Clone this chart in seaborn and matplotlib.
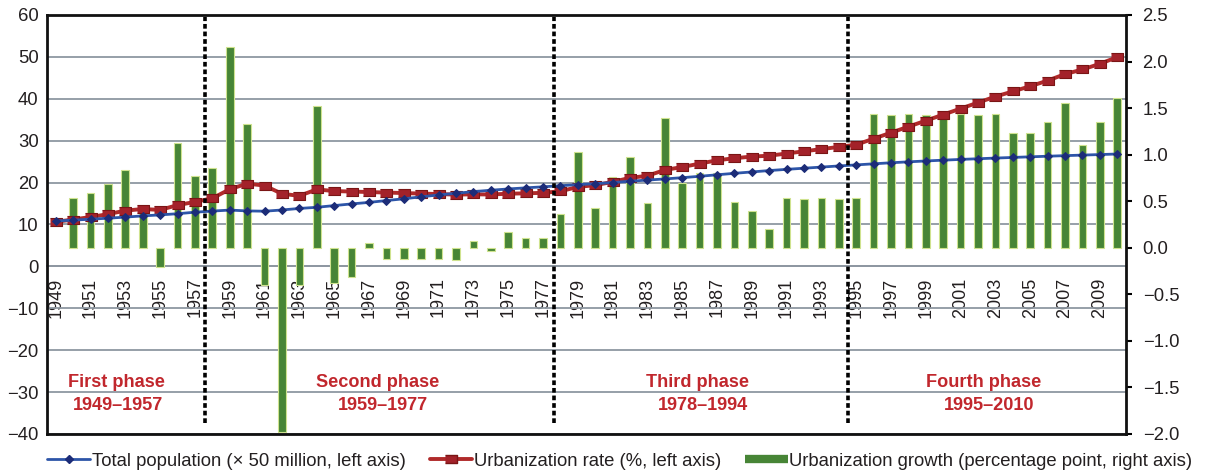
import numpy as np
import pandas as pd
import matplotlib
matplotlib.use('Agg')
import matplotlib.pyplot as plt
import seaborn as sns
from matplotlib.lines import Line2D
from matplotlib.ticker import FuncFormatter

sns.set_style("white")
plt.rcParams['font.family'] = ['Liberation Sans', 'DejaVu Sans']

years = list(range(1949, 2011))

# total population (x 50 million)
population = [10.83, 11.04, 11.26, 11.50, 11.76, 12.05, 12.29, 12.57, 12.93, 13.20,
              13.44, 13.24, 13.17, 13.46, 13.83, 14.10, 14.51, 14.91, 15.27, 15.71,
              16.13, 16.60, 17.05, 17.44, 17.84, 18.17, 18.48, 18.74, 18.99, 19.25,
              19.51, 19.74, 20.01, 20.33, 20.60, 20.87, 21.17, 21.50, 21.86, 22.21,
              22.54, 22.87, 23.16, 23.43, 23.70, 23.97, 24.22, 24.48, 24.73, 24.95,
              25.16, 25.35, 25.53, 25.69, 25.85, 26.00, 26.15, 26.29, 26.43, 26.56,
              26.69, 26.82]

# urbanization rate (%)
urban_rate = [10.64, 11.18, 11.78, 12.46, 13.31, 13.69, 13.48, 14.62, 15.39, 16.25,
              18.41, 19.75, 19.29, 17.33, 16.84, 18.37, 17.98, 17.86, 17.74, 17.62,
              17.50, 17.38, 17.26, 17.13, 17.20, 17.16, 17.34, 17.44, 17.55, 17.92,
              18.96, 19.39, 20.16, 21.13, 21.62, 23.01, 23.71, 24.52, 25.32, 25.81,
              26.21, 26.41, 26.94, 27.46, 27.99, 28.51, 29.04, 30.48, 31.91, 33.35,
              34.78, 36.22, 37.66, 39.09, 40.53, 41.76, 42.99, 44.34, 45.89, 46.99,
              48.34, 49.95]

# urbanization growth (percentage point)
growth = [np.nan, 0.53, 0.59, 0.68, 0.84, 0.38, -0.21, 1.13, 0.77, 0.86,
          2.16, 1.33, -0.40, -1.98, -0.40, 1.52, -0.38, -0.31, 0.05, -0.12,
          -0.12, -0.12, -0.12, -0.13, 0.07, -0.04, 0.17, 0.10, 0.11, 0.36,
          1.03, 0.43, 0.76, 0.97, 0.48, 1.39, 0.70, 0.80, 0.80, 0.49,
          0.40, 0.20, 0.53, 0.52, 0.53, 0.52, 0.53, 1.44, 1.43, 1.44,
          1.43, 1.44, 1.44, 1.43, 1.44, 1.23, 1.23, 1.35, 1.55, 1.10,
          1.35, 1.61]

phase_names = ["First phase", "Second phase", "Third phase", "Fourth phase"]
phase_spans = ["1949\u20131957", "1959\u20131977", "1978\u20131994", "1995\u20132010"]

df = pd.DataFrame({"year": [str(y) for y in years], "idx": np.arange(len(years)),
                   "pop": population, "rate": urban_rate, "growth": growth})

GREEN = "#478536"
RED = "#a3222a"
BLUE = "#2d55a8"
NAVY = "#1c2c78"
GRID = "#8d97a1"
TXT = "#231f20"
PHASE = "#c1272d"

fig = plt.figure(figsize=(12.05, 4.74), dpi=100)
ax = fig.add_axes([0.039, 0.0844, 0.8954, 0.884])
ax2 = ax.twinx()
ax3 = ax.twinx()
ax.set_zorder(0)
ax2.set_zorder(1)
ax3.set_zorder(2)
ax2.patch.set_visible(False)
ax3.patch.set_visible(False)

# bars (right axis)
sns.barplot(data=df, x="year", y="growth", ax=ax2, color=GREEN, saturation=1,
            width=0.44, edgecolor="#cfe38f", linewidth=0.8)

# lines (left axis)
sq = [(-1.35, -1), (1.35, -1), (1.35, 1), (-1.35, 1)]
sns.lineplot(data=df, x="idx", y="rate", ax=ax3, color="#b02a2a", lw=2.8,
             marker=sq, markersize=8.5, markerfacecolor=RED, markeredgecolor="#7a1515",
             markeredgewidth=0.8)
sns.lineplot(data=df, x="idx", y="pop", ax=ax3, color=BLUE, lw=2,
             marker="D", markersize=4.5, markerfacecolor=NAVY, markeredgecolor=NAVY)

n = len(years)
for a in (ax, ax2, ax3):
    a.set_xlim(-0.5, n - 0.5)
    a.set_xlabel("")
    a.set_ylabel("")

ax.set_ylim(-40, 60)
ax3.set_ylim(-40, 60)
ax2.set_ylim(-2.0, 2.5)

# left axis / grid
ax.set_yticks(np.arange(-40, 61, 10))
ax.yaxis.grid(True, color=GRID, lw=1.3)
ax.xaxis.grid(False)
ax.tick_params(axis='y', length=0, pad=6, labelsize=13.3, labelcolor=TXT)
for s in ("left", "top", "right"):
    ax.spines[s].set_visible(False)
ax.spines["bottom"].set_position(("data", 0))
ax.spines["bottom"].set_color(GRID)
ax.spines["bottom"].set_linewidth(1.3)

# x ticks along the zero line
ax.set_xticks(np.arange(0, n, 2))
ax.set_xticklabels(years[::2], rotation=90)
ax.set_xticks(np.arange(-0.5, n, 1), minor=True)
ax.tick_params(axis='x', which='major', length=0, pad=8, labelsize=13, labelcolor=TXT)
ax.tick_params(axis='x', which='minor', length=3, width=1, color=GRID, direction='out')

# right axis
ax2.set_yticks(np.arange(-2.0, 2.51, 0.5))
ax2.yaxis.set_major_formatter(FuncFormatter(lambda v, p: f"{v:.1f}".replace("-", "\u2212")))
ax2.tick_params(axis='y', length=4, width=1.5, color="black", pad=8,
                labelsize=13.3, labelcolor=TXT)
ax2.grid(False)
for s in ax2.spines.values():
    s.set_visible(True)
    s.set_color("#111111")
    s.set_linewidth(2)

ax3.set_yticks([])
ax3.grid(False)
for s in ax3.spines.values():
    s.set_visible(False)

# phase separators and labels
for xpos in [8.58, 28.62, 45.5]:
    ax3.vlines(xpos, -37.4, 59.6, colors="black", linestyles=(0, (1.3, 0.8)), lw=2.6)

name_x = [3.47, 18.49, 36.9, 53.32]
span_x = [3.6, 18.78, 37.2, 53.64]
for nm, sp, xn, xs in zip(phase_names, phase_spans, name_x, span_x):
    ax3.text(xn, -27.8, nm, ha="center", va="center", color=PHASE,
             fontsize=13.1, fontweight="bold")
    ax3.text(xs, -33.3, sp, ha="center", va="center", color=PHASE,
             fontsize=13.1, fontweight="bold")

handles = [
    Line2D([], [], color=BLUE, lw=2, marker="D", markersize=4.5,
           markerfacecolor=NAVY, markeredgecolor=NAVY),
    Line2D([], [], color="#b02a2a", lw=2.8, marker=sq, markersize=8.5,
           markerfacecolor=RED, markeredgecolor="#7a1515"),
    Line2D([], [], color=GREEN, lw=6, solid_capstyle="butt"),
]
labels = ["Total population (\u00d7 50 million, left axis)",
          "Urbanization rate (%, left axis)",
          "Urbanization growth (percentage point, right axis)"]
fig.legend(handles, labels, loc="center", bbox_to_anchor=(0.5145, 0.027), ncol=3,
           frameon=False, fontsize=13.3, handlelength=2.3, handletextpad=0.1,
           columnspacing=1.3, labelcolor=TXT, borderpad=0, borderaxespad=0)

fig.savefig("out.png", dpi=100)
